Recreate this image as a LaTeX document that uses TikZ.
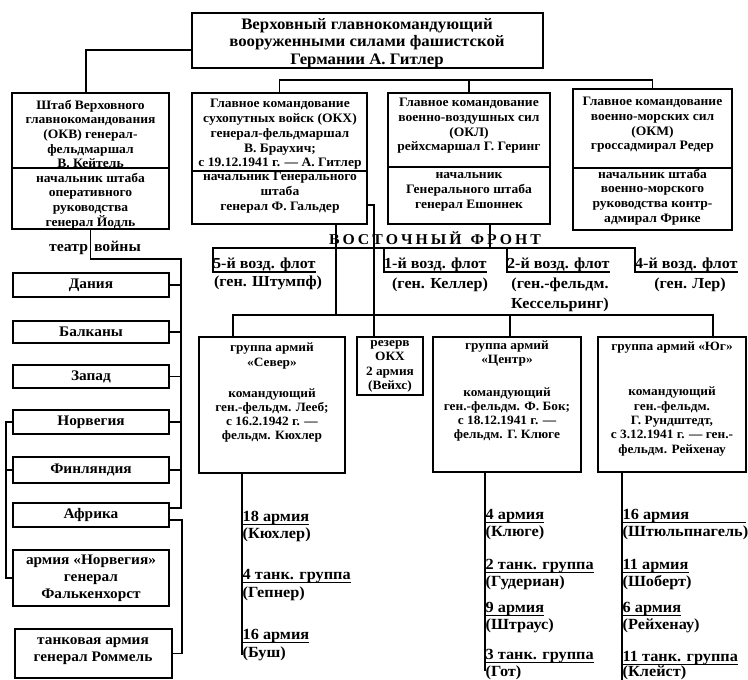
\documentclass[tikz,border=0pt]{standalone}
\usepackage{fontspec}
\setmainfont{Liberation Serif}[FakeStretch=1.05]
\usetikzlibrary{fit,calc}
\newcommand\fsz[2]{\bfseries\fontsize{#1}{#2}\selectfont}
\newcommand\lsp[1]{#1\hspace{3pt}}
\begin{document}
\begin{tikzpicture}[x=1pt,y=-1pt,
  box/.style={draw, line width=1.1pt, inner sep=0pt},
  ln/.style={line width=1.1pt},
  ul/.style={line width=0.8pt},
  toptxt/.style={align=center, inner sep=0pt, font=\fsz{16}{17.5}},
  rtxt/.style={align=center, inner sep=0pt, font=\fsz{12.9}{14.7}},
  gtxt/.style={align=center, inner sep=0pt, font=\fsz{12.7}{14.3}},
  ltxt/.style={align=center, inner sep=0pt, font=\fsz{14.6}{17}},
  ftxt/.style={align=center, inner sep=0pt, font=\fsz{15.3}{19.5}},
  itxt/.style={inner sep=0pt, text depth=3pt, font=\fsz{15.5}{17}},
  fl/.style={inner sep=0pt, text depth=3pt, font=\fsz{15.3}{19.5}}
]
\useasboundingbox (0,0) rectangle (748,680);
\newcommand\ulit[3]{\node[itxt,anchor=base west] (#1) at (#2) {#3};
  \draw[ul] (#1.south west) -- (#1.south east);}
\newcommand\plit[3]{\node[itxt,anchor=base west,text depth=0pt] (#1) at (#2) {#3};}

% top box
\node[box, fit={(192,13) (543,68)}] (top) {};
\node[toptxt] (toptext) at (367,43) {Верховный главнокомандующий\\вооруженными силами фашистской\\Германии А. Гитлер};

% second row
\node[box, fit={(12,93) (169,229)}] (okw) {};
\draw[ln] (okw.west |- 0,168) -- (okw.east |- 0,168);
\node[rtxt] (okwa) at (90.5,134) {Штаб Верховного\\главнокомандования\\(ОКВ) генерал-\\фельдмаршал\\В. Кейтель};
\node[rtxt] (okwb) at (90.5,201) {начальник штаба\\оперативного\\руководства\\генерал Йодль};

\node[box, fit={(192,93) (367,224)}] (okh) {};
\draw[ln] (okh.west |- 0,171) -- (okh.east |- 0,171);
\node[rtxt] (okha) at (280,134.5) {Главное командование\\сухопутных войск (ОКХ)\\генерал-фельдмаршал\\В. Браухич;\\с 19.12.1941 г. — А. Гитлер};
\node[rtxt] (okhb) at (280,192.5) {начальник Генерального\\штаба\\генерал Ф. Гальдер};

\node[box, fit={(388,93) (550,224)}] (okl) {};
\draw[ln] (okl.west |- 0,167) -- (okl.east |- 0,167);
\node[rtxt] (okla) at (469,126) {Главное командование\\военно-воздушных сил\\(ОКЛ)\\рейхсмаршал Г. Геринг};
\node[rtxt] (oklb) at (469,192) {начальник\\Генерального штаба\\генерал Ешоннек};

\node[box, fit={(573,89) (732,230)}] (okm) {};
\draw[ln] (okm.west |- 0,168) -- (okm.east |- 0,168);
\node[rtxt] (okma) at (652.5,125) {Главное командование\\военно-морских сил\\(ОКМ)\\гроссадмирал Редер};
\node[rtxt] (okmb) at (652.5,197) {начальник штаба\\военно-морского\\руководства контр-\\адмирал Фрике};

\draw[ln] (top.west |- 0,50) -| ([xshift=-4.5pt]okw.north);
\draw[ln] (okh.north) |- (okm.north |- 0,80) -- (okm.north);
\draw[ln] (okl.north) -- (okl.north |- 0,80);

% theatre of war
\node[ltxt, font=\fsz{15}{17}] (teatr) at (95,248) {театр\hspace{6pt}войны};
\coordinate (jt) at (181,259);
\node[box, fit={(13,273) (169,297)}] (dan) {};
\node[box, fit={(13,321) (169,343)}] (bal) {};
\node[box, fit={(13,365) (169,388)}] (zap) {};
\node[box, fit={(13,410) (169,434)}] (nor) {};
\node[box, fit={(13,457) (169,483)}] (fin) {};
\node[box, fit={(13,503) (169,527)}] (afr) {};
\node[ltxt] (dant) at (dan.center) {Дания};
\node[ltxt] (balt) at (bal.center) {Балканы};
\node[ltxt] (zapt) at (zap.center) {Запад};
\node[ltxt] (nort) at (nor.center) {Норвегия};
\node[ltxt] (fint) at (fin.center) {Финляндия};
\node[ltxt] (afrt) at (afr.center) {Африка};
\node[box, fit={(13,550) (169,606)}] (armn) {};
\node[ltxt] (armnt) at (91,578) {армия «Норвегия»\\генерал\\Фалькенхорст};
\node[box, fit={(15,629) (172,678)}] (tank) {};
\node[ltxt] (tankt) at (93,651) {танковая армия\\генерал Роммель};

\draw[ln] (okw.south) |- (jt) -- (jt |- 0,508) -- (afr.east |- 0,508);
\foreach \b in {dan,bal,zap,nor,fin} \draw[ln] (\b.east) -- (\b.east -| jt);
\draw[ln] (nor.west) -- (nor.west -| 6,0) |- (armn.west);
\draw[ln] (fin.west) -- (fin.west -| 6,0);
\draw[ln] (afr.east |- 0,520) -- (182,520) |- (tank.east);

% eastern front
\node[inner sep=0pt, font=\fsz{15}{16}] (vf) at (435,238) {\lsp{В}\lsp{О}\lsp{С}\lsp{Т}\lsp{О}\lsp{Ч}\lsp{Н}\lsp{Ы}Й\hspace{9pt}\lsp{Ф}\lsp{Р}\lsp{О}\lsp{Н}Т};

% air fleets
\node[fl, anchor=south west] (f5) at (213,272) {5-й возд. флот};
\node[fl, anchor=south west] (f1) at (384,272) {1-й возд. флот};
\node[fl, anchor=south west] (f2) at (507,272) {2-й возд. флот};
\node[fl, anchor=south west] (f4) at (635,272) {4-й возд. флот};
\node[ftxt] (f5b) at (268,283) {(ген. Штумпф)};
\node[ftxt] (f1b) at (440,285) {(ген. Келлер)};
\node[ftxt] (f2b) at (560,295) {(ген.-фельдм.\\Кессельринг)};
\node[ftxt] (f4b) at (690,285) {(ген. Лер)};
\draw[ln] (okl.south -| 490,0) -- (490,248);
\draw[ln] (f5.south east) -- (f5.south west) -- (f5.south west |- 0,248) -- (f4.south west |- 0,248) -- (f4.south west) -- (f4.south east);
\draw[ln] (f1.south west |- 0,248) -- (f1.south west) -- (f1.south east);
\draw[ln] (f2.south west |- 0,248) -- (f2.south west) -- (f2.south east);

% army groups
\node[box, fit={(199,337) (345,473)}] (sev) {};
\node[box, fit={(357,337) (423,395)}] (rez) {};
\node[box, fit={(433,337) (581,472)}] (cen) {};
\node[box, fit={(598,337) (746,472)}] (yug) {};
\node[gtxt] (seva) at (272,356) {группа армий\\«Север»};
\node[gtxt] (sevb) at (272,415.5) {командующий\\ген.-фельдм. Лееб;\\с 16.2.1942 г. —\\фельдм. Кюхлер};
\node[gtxt] (rezt) at (390,366.5) {резерв\\ОКХ\\2 армия\\(Вейхс)};
\node[gtxt] (cena) at (507,353.5) {группа армий\\«Центр»};
\node[gtxt] (cenb) at (507,414.5) {командующий\\ген.-фельдм. Ф. Бок;\\с 18.12.1941 г. —\\фельдм. Г. Клюге};
\node[gtxt] (yuga) at (672,347) {группа армий «Юг»};
\node[gtxt] (yugb) at (672,421.5) {командующий\\ген.-фельдм.\\Г. Рундштедт,\\с 3.12.1941 г. — ген.-\\фельдм. Рейхенау};

\draw[ln] (okh.south -| 336,0) -- (336,315);
\draw[ln] (sev.north -| 233,0) -- (233,315) -- (713,315) -- (yug.north -| 713,0);
\draw[ln] (cen.north -| 510,0) -- (510,315);
\draw[ln] (okh.east |- 0,205) -- (374,205) -- (rez.north -| 374,0);

% armies
\draw[ln] (sev.south -| 242,0) -- (242,655);
\draw[ln] (cen.south -| 485,0) -- (485,671);
\draw[ln] (yug.south -| 622,0) -- (622,680);

\ulit{s1}{242.5,521}{18 армия}
\plit{s1b}{242.5,538}{(Кюхлер)}
\ulit{s2}{242.5,579}{4 танк. группа}
\plit{s2b}{242.5,597}{(Гепнер)}
\ulit{s3}{242.5,639}{16 армия}
\plit{s3b}{242.5,657}{(Буш)}

\ulit{c1}{485.5,519}{4 армия}
\plit{c1b}{485.5,536}{(Клюге)}
\ulit{c2}{485.5,569}{2 танк. группа}
\plit{c2b}{485.5,586}{(Гудериан)}
\ulit{c3}{485.5,612}{9 армия}
\plit{c3b}{485.5,629}{(Штраус)}
\ulit{c4}{485.5,659}{3 танк. группа}
\plit{c4b}{485.5,676}{(Гот)}

\node[itxt,anchor=base west] (y1) at (622.5,519) {16 армия};
\draw[ul] (y1.south west) -- (y1.south -| 746,0);
\plit{y1b}{622.5,536}{(Штюльпнагель)}
\ulit{y2}{622.5,569}{11 армия}
\plit{y2b}{622.5,586}{(Шоберт)}
\ulit{y3}{622.5,612}{6 армия}
\plit{y3b}{622.5,629}{(Рейхенау)}
\ulit{y4}{622.5,661}{11 танк. группа}
\plit{y4b}{622.5,676}{(Клейст)}
\end{tikzpicture}
\end{document}
